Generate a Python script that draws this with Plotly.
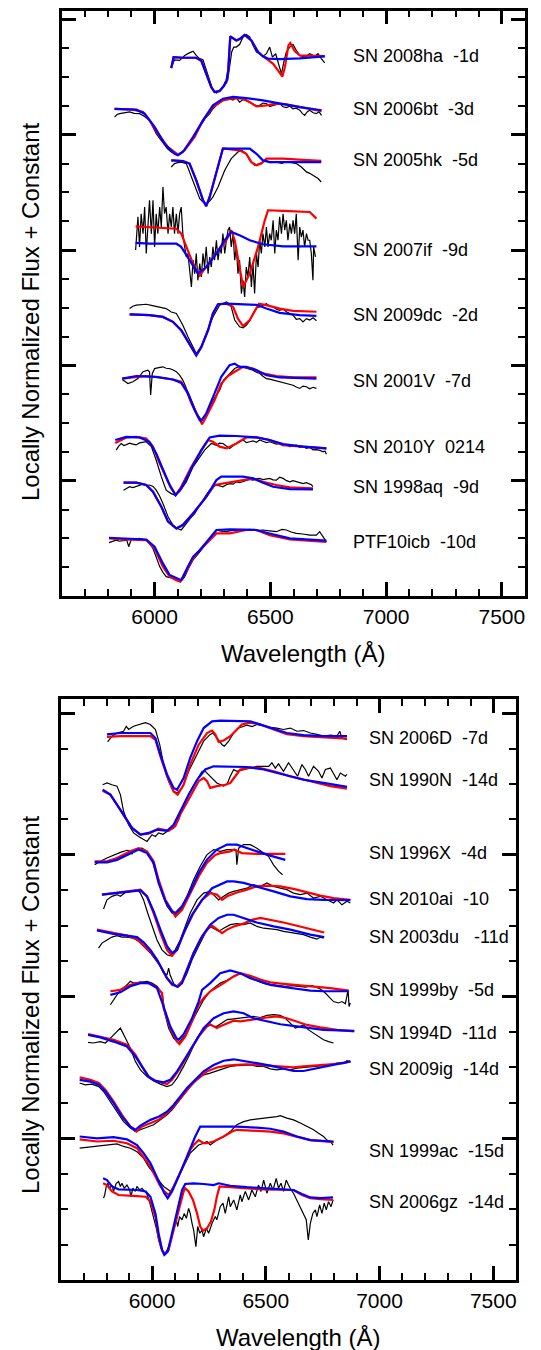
import plotly.graph_objects as go

FONT = "Liberation Sans, Arial, Helvetica, sans-serif"

# ---------------- TOP PANEL DATA (wavelength Å, flux + constant) ----------------
sn2008ha_obs = [(6076,18.41),(6086,18.60),(6108,18.58),(6130,18.75),(6148,18.83),(6166,18.90),(6180,18.75),(6195,18.64),(6209,18.60),(6223,18.23),(6238,17.83),(6252,17.54),(6267,17.45),(6281,17.52),(6295,17.65),(6304,17.83),(6316,17.89),(6324,18.35),(6333,18.87),(6342,19.04),(6353,19.04),(6367,19.13),(6382,19.39),(6396,19.48),(6411,19.39),(6425,19.10),(6440,18.87),(6454,18.81),(6468,18.72),(6483,18.81),(6497,19.04),(6509,18.69),(6523,18.81),(6537,18.41),(6548,18.12),(6558,18.52),(6569,18.87),(6584,19.04),(6598,19.13),(6612,18.93),(6627,18.75),(6648,18.69),(6670,18.81),(6692,18.72),(6706,18.81),(6720,18.64),(6735,18.49)]
sn2008ha_red = [(6072,18.31),(6082,18.69),(6122,18.67),(6180,18.67),(6202,18.56),(6223,18.12),(6245,17.65),(6259,17.48),(6281,17.52),(6298,17.68),(6310,17.83),(6318,18.23),(6324,19.27),(6327,19.41),(6353,19.27),(6367,19.32),(6389,19.46),(6418,19.27),(6447,18.87),(6468,18.72),(6490,18.60),(6512,18.46),(6533,18.23),(6552,18.02),(6563,18.35),(6578,19.10),(6586,19.18),(6605,18.90),(6627,18.75),(6684,18.75),(6735,18.73)]
sn2008ha_blue = [(6072,18.31),(6082,18.69),(6122,18.67),(6180,18.67),(6202,18.56),(6223,18.12),(6245,17.65),(6259,17.48),(6281,17.52),(6298,17.68),(6310,17.83),(6318,18.23),(6324,19.27),(6327,19.41),(6353,19.27),(6367,19.32),(6389,19.46),(6418,19.27),(6447,18.87),(6468,18.72),(6490,18.64),(6540,18.62),(6627,18.65),(6735,18.72)]

sn2006bt_obs = [(5827,16.61),(5838,16.70),(5849,16.73),(5870,16.76),(5892,16.79),(5912,16.74),(5935,16.73),(5955,16.64),(5978,16.50),(6007,16.04),(6020,15.90),(6036,15.69),(6055,15.52),(6072,15.40),(6101,15.29),(6115,15.38),(6130,15.46),(6148,15.70),(6166,15.92),(6184,16.16),(6202,16.38),(6220,16.58),(6238,16.73),(6252,16.90),(6267,17.02),(6280,17.10),(6295,17.19),(6310,17.22),(6324,17.25),(6338,17.20),(6353,17.28),(6367,17.13),(6382,17.22),(6396,17.19),(6411,17.12),(6425,17.08),(6440,17.00),(6454,17.02),(6468,17.10),(6483,17.08),(6498,16.98),(6512,17.02),(6526,17.06),(6540,17.08),(6555,16.97),(6569,16.94),(6584,16.99),(6598,16.90),(6612,16.92),(6627,16.85),(6638,16.74),(6648,16.67),(6660,16.80),(6670,16.85),(6685,16.76),(6699,16.73),(6710,16.80),(6721,16.67)]
sn2006bt_red = [(5827,16.90),(5906,16.87),(5950,16.79),(5978,16.50),(6014,16.04),(6058,15.57),(6101,15.31),(6130,15.46),(6173,15.92),(6209,16.50),(6252,16.96),(6295,17.19),(6339,17.27),(6382,17.25),(6411,17.13),(6440,16.98),(6483,17.02),(6526,17.08),(6569,17.05),(6627,16.96),(6721,16.82)]
sn2006bt_blue = [(5827,16.90),(5921,16.87),(5957,16.73),(6000,16.27),(6043,15.69),(6086,15.34),(6101,15.29),(6122,15.40),(6166,15.92),(6209,16.50),(6252,17.02),(6295,17.25),(6339,17.31),(6396,17.27),(6468,17.19),(6540,17.08),(6627,16.96),(6721,16.85)]

sn2005hk_obs = [(6072,14.88),(6086,15.00),(6100,15.03),(6115,15.05),(6137,15.00),(6151,14.71),(6173,14.19),(6195,13.78),(6209,13.67),(6223,13.61),(6238,13.70),(6252,13.84),(6274,14.19),(6303,14.77),(6331,15.17),(6360,15.40),(6375,15.46),(6396,15.34),(6411,15.11),(6432,14.94),(6454,15.00),(6470,15.06),(6483,15.11),(6500,15.03),(6526,15.05),(6550,15.01),(6570,15.07),(6584,15.05),(6612,15.00),(6634,14.88),(6656,14.71),(6670,14.66),(6684,14.59),(6706,14.48),(6720,14.36)]
sn2005hk_red = [(6072,15.11),(6122,15.09),(6151,15.00),(6180,14.42),(6209,13.73),(6223,13.52),(6238,13.84),(6267,14.65),(6295,15.52),(6303,15.52),(6367,15.46),(6396,15.34),(6418,15.05),(6440,14.94),(6461,15.00),(6483,15.17),(6555,15.17),(6641,15.13),(6720,15.09)]
sn2005hk_blue = [(6072,15.11),(6122,15.09),(6151,15.00),(6180,14.42),(6209,13.73),(6223,13.52),(6238,13.84),(6267,14.65),(6295,15.52),(6324,15.52),(6411,15.52),(6440,15.34),(6468,15.11),(6497,15.05),(6555,15.05),(6720,15.05)]

sn2007if_obs = [(5918,12.00),(5928,13.15),(5935,12.11),(5942,13.26),(5950,12.57),(5957,13.49),(5964,11.88),(5971,13.03),(5978,13.73),(5986,12.57),(5993,13.73),(6000,12.11),(6007,13.26),(6014,12.57),(6022,13.49),(6029,12.80),(6036,14.19),(6043,13.26),(6050,13.49),(6058,12.57),(6065,13.26),(6072,12.80),(6079,13.49),(6086,12.57),(6094,13.26),(6101,12.57),(6108,13.26),(6115,13.49),(6122,12.57),(6130,12.11),(6137,11.76),(6144,11.88),(6151,11.41),(6159,10.72),(6166,11.65),(6173,11.18),(6180,11.88),(6187,10.95),(6195,11.53),(6202,11.07),(6209,11.88),(6216,11.41),(6223,12.11),(6231,11.18),(6238,11.76),(6245,11.41),(6252,12.11),(6259,11.65),(6267,12.34),(6274,11.65),(6281,12.11),(6288,11.88),(6295,12.57),(6303,11.88),(6310,12.34),(6317,12.69),(6324,12.80),(6331,12.11),(6339,12.57),(6346,11.65),(6353,12.11),(6360,11.18),(6367,11.65),(6375,10.49),(6382,10.95),(6389,10.37),(6396,11.41),(6403,11.07),(6411,11.76),(6418,10.72),(6425,11.53),(6432,10.49),(6440,11.88),(6447,11.41),(6454,12.34),(6461,11.88),(6468,12.57),(6476,12.11),(6483,12.80),(6490,12.11),(6497,12.57),(6504,12.34),(6512,13.03),(6519,11.88),(6526,12.69),(6533,12.34),(6540,13.15),(6548,12.57),(6555,13.26),(6562,12.69),(6569,13.03),(6576,12.34),(6584,12.92),(6591,12.57),(6598,13.03),(6605,12.57),(6612,13.26),(6620,11.65),(6627,12.80),(6634,12.45),(6641,12.69),(6648,12.11),(6656,12.57),(6663,12.34),(6670,12.34),(6677,11.88),(6684,10.95),(6687,12.11),(6695,11.76)]
sn2007if_red = [(5918,12.82),(5978,12.80),(6094,12.74),(6115,12.57),(6137,12.11),(6166,11.53),(6195,11.12),(6223,11.41),(6267,11.88),(6310,12.34),(6331,12.69),(6346,12.34),(6367,11.41),(6382,10.72),(6411,11.18),(6447,12.11),(6476,13.03),(6490,13.38),(6555,13.36),(6670,13.32),(6699,13.09)]
sn2007if_blue = [(5918,12.25),(5978,12.22),(6094,12.22),(6115,12.11),(6151,11.65),(6187,11.18),(6223,11.41),(6267,11.88),(6303,12.34),(6331,12.63),(6367,12.51),(6411,12.34),(6468,12.20),(6555,12.13),(6699,12.13)]

sn2009dc_obs = [(5892,9.97),(5906,10.05),(5921,10.09),(5942,10.10),(5964,10.12),(5986,10.08),(6007,10.05),(6029,10.02),(6050,9.97),(6072,9.85),(6094,9.80),(6108,9.60),(6122,9.39),(6144,8.99),(6166,8.64),(6180,8.41),(6188,8.50),(6202,8.64),(6223,9.10),(6252,9.68),(6281,10.09),(6310,10.20),(6325,10.12),(6331,10.03),(6346,9.57),(6367,9.34),(6382,9.30),(6396,9.39),(6411,9.55),(6425,9.80),(6440,10.00),(6454,10.03),(6483,10.14),(6497,10.05),(6512,10.03),(6526,9.95),(6540,9.91),(6555,9.95),(6569,9.86),(6584,9.80),(6598,9.74),(6612,9.60),(6627,9.62),(6641,9.51),(6656,9.62),(6670,9.57),(6685,9.65),(6699,9.55)]
sn2009dc_red = [(5892,9.77),(5978,9.74),(6036,9.68),(6079,9.51),(6115,9.22),(6151,8.76),(6180,8.35),(6202,8.64),(6231,9.22),(6252,9.80),(6274,10.12),(6310,10.14),(6339,10.03),(6360,9.62),(6382,9.36),(6411,9.57),(6440,9.97),(6451,10.14),(6483,10.09),(6540,9.97),(6598,9.89),(6699,9.86)]
sn2009dc_blue = [(5892,9.77),(5978,9.74),(6036,9.68),(6079,9.51),(6115,9.22),(6151,8.76),(6180,8.35),(6202,8.64),(6231,9.22),(6252,9.80),(6274,10.12),(6310,10.14),(6367,10.12),(6440,10.10),(6483,9.97),(6540,9.82),(6627,9.74),(6699,9.72)]

sn2001v_obs = [(5860,7.51),(5872,7.45),(5885,7.37),(5906,7.43),(5928,7.54),(5950,7.78),(5971,7.83),(5978,7.78),(5983,6.97),(5990,7.72),(6000,7.89),(6018,7.92),(6036,7.95),(6050,7.90),(6065,7.89),(6080,7.84),(6094,7.78),(6108,7.66),(6122,7.49),(6144,7.08),(6166,6.68),(6183,6.33),(6202,6.10),(6223,6.33),(6252,6.79),(6281,7.14),(6298,7.49),(6317,7.66),(6346,7.89),(6367,7.97),(6396,7.89),(6425,7.83),(6440,7.76),(6454,7.72),(6468,7.62),(6483,7.54),(6497,7.52),(6512,7.49),(6526,7.45),(6540,7.43),(6555,7.40),(6569,7.37),(6584,7.35),(6598,7.31),(6612,7.25),(6627,7.20),(6641,7.28),(6656,7.26),(6670,7.19),(6685,7.24),(6699,7.20)]
sn2001v_red = [(5860,7.54),(5921,7.60),(5964,7.63),(6022,7.58),(6079,7.51),(6115,7.43),(6137,7.14),(6159,6.68),(6187,6.22),(6205,5.96),(6223,6.22),(6259,6.79),(6288,7.37),(6317,7.63),(6346,7.78),(6382,7.95),(6425,7.89),(6468,7.72),(6526,7.63),(6598,7.58),(6699,7.58)]
sn2001v_blue = [(5860,7.54),(5921,7.63),(6007,7.60),(6079,7.51),(6115,7.39),(6144,7.03),(6173,6.45),(6195,6.10),(6202,6.08),(6223,6.33),(6259,7.03),(6288,7.60),(6324,8.01),(6346,8.06),(6367,7.95),(6396,7.95),(6440,7.83),(6483,7.66),(6540,7.58),(6699,7.54)]

sn2010y_obs = [(5834,5.06),(5845,5.20),(5856,5.29),(5867,5.22),(5878,5.25),(5892,5.30),(5906,5.27),(5920,5.24),(5935,5.31),(5950,5.33),(5964,5.35),(5986,5.18),(6007,4.71),(6029,4.14),(6050,3.67),(6070,3.56),(6086,3.50),(6108,3.62),(6137,3.96),(6166,4.48),(6187,4.71),(6216,5.06),(6245,5.29),(6267,5.23),(6280,5.30),(6295,5.29),(6310,5.20),(6324,5.12),(6340,5.22),(6353,5.29),(6368,5.37),(6382,5.41),(6397,5.32),(6411,5.35),(6425,5.38),(6440,5.33),(6454,5.41),(6470,5.36),(6483,5.32),(6497,5.35),(6512,5.30),(6526,5.27),(6540,5.29),(6555,5.22),(6570,5.24),(6584,5.18),(6598,5.20),(6612,5.23),(6627,5.16),(6641,5.19),(6656,5.12),(6670,5.15),(6685,5.07),(6699,5.08),(6714,5.05),(6728,5.00),(6736,5.03),(6742,4.92)]
sn2010y_red = [(5830,5.31),(5878,5.50),(5921,5.52),(5964,5.46),(5993,5.18),(6022,4.60),(6058,3.96),(6091,3.50),(6115,3.79),(6159,4.48),(6202,5.06),(6231,5.41),(6252,5.35),(6281,5.18),(6310,5.12),(6353,5.29),(6396,5.50),(6440,5.50),(6497,5.41),(6555,5.23),(6641,5.18),(6742,5.12)]
sn2010y_blue = [(5830,5.41),(5878,5.52),(5935,5.50),(5978,5.35),(6007,4.94),(6036,4.37),(6068,3.79),(6091,3.50),(6115,3.73),(6159,4.42),(6202,5.06),(6238,5.50),(6281,5.56),(6353,5.55),(6440,5.50),(6497,5.41),(6555,5.27),(6641,5.18),(6742,5.12)]

sn1998aq_obs = [(5866,3.67),(5880,3.75),(5892,3.79),(5906,3.76),(5921,3.81),(5935,3.84),(5950,3.88),(5964,3.83),(5978,3.85),(5993,3.80),(6007,3.67),(6022,3.46),(6036,3.21),(6058,2.75),(6079,2.46),(6098,2.34),(6115,2.29),(6126,2.40),(6137,2.52),(6155,2.70),(6173,2.86),(6191,3.10),(6209,3.33),(6224,3.52),(6238,3.67),(6252,3.78),(6267,3.85),(6282,3.82),(6295,3.79),(6310,3.86),(6324,3.90),(6339,3.88),(6353,3.96),(6368,3.93),(6382,3.98),(6396,4.01),(6411,4.04),(6425,4.02),(6440,4.06),(6454,4.08),(6468,4.04),(6483,4.07),(6497,4.08),(6512,4.03),(6526,4.02),(6540,4.12),(6555,4.08),(6570,4.00),(6584,3.96),(6598,4.00),(6612,3.96),(6627,3.93),(6641,3.90),(6656,3.93),(6670,3.88),(6677,3.86),(6684,3.79)]
sn1998aq_red = [(5866,3.93),(5921,3.93),(5964,3.85),(5993,3.62),(6029,3.10),(6058,2.58),(6094,2.34),(6122,2.46),(6166,2.86),(6223,3.44),(6259,3.85),(6295,3.90),(6353,3.96),(6396,4.02),(6425,4.08),(6468,3.96),(6526,3.85),(6584,3.77),(6684,3.73)]
sn1998aq_blue = [(5866,3.93),(5921,3.93),(5964,3.85),(5993,3.62),(6029,3.10),(6058,2.58),(6094,2.34),(6122,2.46),(6166,2.86),(6223,3.44),(6267,4.02),(6288,4.14),(6382,4.14),(6425,4.08),(6468,3.93),(6512,3.79),(6584,3.71),(6684,3.70)]

ptf10icb_obs = [(5803,1.85),(5818,1.90),(5834,1.94),(5848,1.90),(5863,1.92),(5880,1.94),(5888,1.71),(5899,1.96),(5917,1.97),(5935,2.00),(5950,1.97),(5964,1.94),(5978,1.82),(5993,1.65),(6007,1.35),(6022,1.02),(6036,0.82),(6050,0.67),(6068,0.64),(6086,0.61),(6098,0.55),(6108,0.50),(6120,0.56),(6130,0.67),(6148,0.98),(6166,1.25),(6184,1.42),(6202,1.59),(6218,1.78),(6235,1.94),(6250,2.12),(6267,2.29),(6288,2.25),(6310,2.23),(6330,2.27),(6353,2.29),(6380,2.28),(6411,2.31),(6440,2.27),(6468,2.29),(6497,2.26),(6526,2.23),(6550,2.31),(6569,2.29),(6590,2.22),(6612,2.17),(6640,2.15),(6670,2.11),(6699,2.11),(6713,2.23),(6728,2.05),(6742,1.88)]
ptf10icb_red = [(5803,2.00),(5863,1.96),(5964,1.94),(6000,1.65),(6036,1.02),(6065,0.67),(6094,0.55),(6111,0.50),(6144,0.96),(6166,1.30),(6195,1.59),(6231,1.88),(6267,2.17),(6324,2.17),(6396,2.29),(6440,2.29),(6497,2.11),(6584,1.96),(6742,1.88)]
ptf10icb_blue = [(5803,2.02),(5863,2.00),(5964,1.96),(6000,1.71),(6036,1.13),(6065,0.73),(6094,0.61),(6115,0.55),(6144,1.02),(6166,1.36),(6195,1.59),(6231,1.94),(6267,2.29),(6324,2.31),(6440,2.29),(6497,2.17),(6584,2.00),(6742,1.92)]

# ---------------- BOTTOM PANEL DATA ----------------
sn2006d_obs = [(5805,15.19),(5824,15.35),(5846,15.44),(5875,15.49),(5887,15.63),(5897,15.54),(5919,15.63),(5949,15.70),(5971,15.73),(5993,15.68),(6015,15.54),(6034,15.11),(6051,14.55),(6073,14.08),(6095,13.79),(6110,13.75),(6132,13.89),(6161,14.36),(6198,14.83),(6227,15.21),(6256,15.40),(6268,15.44),(6285,15.30),(6308,15.11),(6318,15.07),(6337,15.21),(6359,15.44),(6381,15.58),(6417,15.66),(6440,15.62),(6461,15.68),(6491,15.63),(6520,15.60),(6549,15.58),(6578,15.54),(6608,15.58),(6637,15.49),(6666,15.51),(6696,15.44),(6725,15.40),(6754,15.35),(6784,15.38),(6813,15.35),(6825,15.49),(6835,15.30),(6857,15.25)]
sn2006d_red = [(5802,15.33),(5861,15.35),(5993,15.35),(6015,15.25),(6037,14.78),(6066,14.22),(6095,13.79),(6113,13.70),(6139,13.98),(6168,14.55),(6205,15.11),(6242,15.44),(6264,15.51),(6278,15.40),(6293,15.19),(6315,15.23),(6344,15.35),(6373,15.54),(6395,15.68),(6432,15.73),(6476,15.68),(6535,15.54),(6593,15.41),(6666,15.35),(6754,15.32),(6857,15.28)]
sn2006d_blue = [(5802,15.40),(5861,15.44),(5993,15.44),(6015,15.30),(6037,14.83),(6066,14.27),(6095,13.89),(6110,13.84),(6139,14.17),(6168,14.74),(6198,15.21),(6227,15.58),(6264,15.77),(6300,15.79),(6432,15.77),(6476,15.68),(6535,15.54),(6593,15.44),(6666,15.38),(6754,15.35),(6857,15.35)]

sn1990n_obs = [(5783,13.98),(5802,14.03),(5824,13.98),(5846,13.94),(5861,13.70),(5875,13.23),(5897,12.85),(5919,12.62),(5941,12.52),(5960,12.45),(5978,12.38),(6000,12.57),(6015,12.52),(6029,12.62),(6048,12.58),(6066,12.66),(6095,12.76),(6117,12.99),(6139,13.42),(6168,13.79),(6198,14.12),(6220,14.36),(6234,14.36),(6256,14.22),(6285,14.03),(6315,13.94),(6330,14.00),(6344,14.22),(6359,14.41),(6373,14.36),(6403,14.41),(6432,14.45),(6461,14.50),(6491,14.50),(6513,14.50),(6527,14.60),(6542,14.45),(6556,14.57),(6578,14.36),(6600,14.60),(6622,14.41),(6640,14.22),(6659,14.55),(6674,14.41),(6688,14.22),(6710,14.50),(6732,14.36),(6747,14.17),(6762,14.41),(6784,14.45),(6813,14.12),(6828,14.31),(6850,14.22),(6857,14.27)]
sn1990n_red = [(5783,13.81),(5817,13.70),(5846,13.42),(5875,13.14),(5912,12.76),(5949,12.57),(5985,12.60),(6029,12.74),(6073,12.68),(6102,12.81),(6124,13.14),(6168,13.65),(6205,14.08),(6227,14.17),(6242,14.08),(6256,13.89),(6285,13.94),(6322,13.98),(6344,14.03),(6366,14.22),(6388,14.41),(6432,14.47),(6476,14.45),(6535,14.36),(6608,14.22),(6696,14.08),(6784,13.94),(6857,13.87)]
sn1990n_blue = [(5783,13.84),(5817,13.70),(5846,13.42),(5875,13.14),(5912,12.76),(5949,12.57),(5985,12.62),(6022,12.71),(6066,12.68),(6095,12.85),(6124,13.23),(6161,13.70),(6198,14.12),(6234,14.41),(6271,14.50),(6330,14.50),(6417,14.48),(6491,14.41),(6578,14.27),(6666,14.12),(6754,14.03),(6857,13.92)]

sn1996x_obs = [(5748,11.72),(5773,11.82),(5802,11.91),(5831,12.00),(5861,12.07),(5890,12.13),(5905,12.10),(5912,12.03),(5920,12.12),(5934,12.17),(5956,12.19),(5978,12.10),(6000,11.86),(6022,11.39),(6044,10.92),(6066,10.55),(6088,10.36),(6103,10.31),(6125,10.45),(6154,10.83),(6183,11.30),(6212,11.68),(6241,12.00),(6271,12.15),(6300,12.10),(6330,12.15),(6358,12.15),(6369,12.15),(6373,11.72),(6381,12.19),(6402,12.29),(6432,12.29),(6461,12.19),(6490,12.05),(6512,11.96),(6534,11.72),(6556,11.54),(6574,11.44)]
sn1996x_red = [(5748,11.82),(5802,11.82),(5846,11.91),(5905,12.10),(5941,12.19),(5978,12.10),(6007,11.82),(6029,11.30),(6059,10.73),(6095,10.31),(6103,10.26),(6132,10.45),(6168,10.92),(6205,11.39),(6241,11.77),(6278,12.00),(6300,12.05),(6344,12.10),(6361,12.15),(6395,12.05),(6461,12.03),(6586,12.03)]
sn1996x_blue = [(5748,11.79),(5802,11.79),(5846,11.86),(5905,12.05),(5941,12.15),(5978,12.05),(6007,11.77),(6029,11.21),(6059,10.69),(6088,10.41),(6103,10.36),(6132,10.55),(6168,10.97),(6205,11.49),(6241,11.86),(6285,12.15),(6330,12.29),(6373,12.29),(6417,12.19),(6461,12.10),(6520,11.98),(6586,11.86)]

sn2010ai_obs = [(5787,10.47),(5802,10.73),(5824,10.83),(5846,10.88),(5861,10.83),(5883,10.94),(5912,10.97),(5934,11.02),(5949,10.92),(5963,10.73),(5981,10.36),(6000,9.98),(6022,9.60),(6044,9.32),(6066,9.18),(6080,9.15),(6102,9.32),(6124,9.60),(6146,9.98),(6168,10.36),(6198,10.73),(6227,10.92),(6256,10.97),(6271,10.88),(6293,10.73),(6315,10.83),(6337,10.92),(6359,10.97),(6388,11.02),(6417,11.06),(6446,11.16),(6476,11.11),(6505,11.21),(6535,11.11),(6564,11.06),(6593,11.02),(6622,10.92),(6652,10.88),(6681,10.92),(6710,10.78),(6740,10.83),(6769,10.73),(6798,10.64),(6813,10.73),(6835,10.59),(6857,10.69),(6872,10.64)]
sn2010ai_red = [(5780,10.88),(5831,10.92),(5890,10.97),(5949,11.02),(5978,10.83),(6007,10.36),(6037,9.79),(6066,9.32),(6088,9.15),(6110,9.32),(6146,9.89),(6183,10.36),(6220,10.73),(6256,10.92),(6285,10.88),(6308,10.73),(6330,10.83),(6373,10.94),(6417,11.02),(6461,11.11),(6505,11.13),(6564,11.11),(6622,11.04),(6681,10.94),(6740,10.85),(6798,10.78),(6872,10.73)]
sn2010ai_blue = [(5780,10.88),(5831,10.92),(5890,10.97),(5949,11.00),(5978,10.83),(6007,10.41),(6037,9.89),(6066,9.42),(6088,9.23),(6110,9.32),(6139,9.79),(6176,10.31),(6220,10.73),(6264,11.06),(6330,11.25),(6359,11.25),(6403,11.21),(6461,11.11),(6535,10.97),(6608,10.83),(6681,10.75),(6754,10.73),(6872,10.72)]

sn2003du_obs = [(5765,9.37),(5780,9.51),(5802,9.60),(5824,9.68),(5846,9.72),(5868,9.68),(5890,9.68),(5919,9.65),(5941,9.56),(5963,9.42),(5993,9.23),(6015,9.04),(6037,8.85),(6051,8.66),(6066,8.62),(6073,8.80),(6080,8.60),(6088,8.48),(6098,8.33),(6110,8.29),(6132,8.38),(6154,8.66),(6176,9.04),(6205,9.42),(6234,9.79),(6256,9.98),(6271,9.93),(6293,9.84),(6315,9.93),(6344,10.03),(6373,10.06),(6403,10.03),(6432,10.08),(6461,9.98),(6491,9.93),(6520,9.91),(6549,9.89),(6578,9.84),(6608,9.81),(6637,9.79),(6666,9.75),(6696,9.68),(6725,9.62),(6740,9.68),(6754,9.65)]
sn2003du_red = [(5758,9.89),(5831,9.79),(5890,9.72),(5934,9.62),(5963,9.46),(5993,9.27),(6022,9.04),(6044,8.76),(6066,8.52),(6088,8.33),(6110,8.29),(6132,8.43),(6154,8.76),(6183,9.23),(6212,9.60),(6242,9.89),(6264,10.00),(6285,9.89),(6308,9.79),(6330,9.89),(6359,9.98),(6403,10.06),(6439,10.17),(6476,10.22),(6520,10.17),(6578,10.09),(6637,10.00),(6696,9.91),(6757,9.81)]
sn2003du_blue = [(5758,9.87),(5831,9.77),(5890,9.72),(5934,9.68),(5963,9.53),(5993,9.32),(6022,9.04),(6044,8.76),(6066,8.52),(6088,8.36),(6113,8.27),(6132,8.38),(6154,8.76),(6183,9.23),(6220,9.70),(6256,10.03),(6293,10.22),(6330,10.31),(6359,10.31),(6403,10.22),(6461,10.09),(6535,9.98),(6608,9.89),(6696,9.75),(6757,9.68)]

sn1999by_obs = [(5817,7.77),(5839,8.00),(5861,8.19),(5883,8.29),(5905,8.43),(5919,8.38),(5949,8.40),(5978,8.43),(6000,8.38),(6022,8.29),(6044,8.10),(6058,7.49),(6073,7.11),(6095,6.83),(6117,6.69),(6146,6.92),(6176,7.30),(6205,7.67),(6227,7.91),(6249,8.10),(6271,8.24),(6300,8.38),(6330,8.46),(6359,8.57),(6388,8.65),(6410,8.62),(6439,8.52),(6468,8.43),(6498,8.36),(6527,8.33),(6556,8.31),(6586,8.29),(6615,8.31),(6644,8.29),(6674,8.27),(6703,8.31),(6732,8.24),(6754,8.15),(6776,8.00),(6798,7.86),(6820,7.82),(6835,7.86),(6850,7.80),(6862,8.19),(6866,7.72),(6872,7.82)]
sn1999by_red = [(5817,8.15),(5861,8.19),(5905,8.33),(5949,8.40),(5985,8.38),(6015,8.29),(6044,8.10),(6051,7.67),(6080,7.11),(6110,6.73),(6121,6.66),(6146,6.87),(6176,7.30),(6205,7.77),(6227,7.96),(6256,8.15),(6315,8.38),(6359,8.57),(6388,8.66),(6432,8.59),(6476,8.48),(6520,8.40),(6578,8.36),(6637,8.33),(6696,8.29),(6784,8.24),(6864,8.17)]
sn1999by_blue = [(5817,8.05),(5861,8.12),(5905,8.29),(5949,8.38),(5985,8.38),(6022,8.24),(6051,7.72),(6080,7.16),(6107,6.83),(6117,6.78),(6139,6.94),(6176,7.39),(6205,7.86),(6220,8.19),(6256,8.38),(6300,8.66),(6344,8.74),(6388,8.66),(6432,8.52),(6476,8.43),(6520,8.33),(6578,8.27),(6637,8.21),(6696,8.17),(6754,8.15),(6864,8.15)]

sn1994d_obs = [(5719,6.71),(5741,6.69),(5773,6.73),(5795,6.69),(5824,6.87),(5846,7.02),(5861,7.11),(5883,6.83),(5905,6.54),(5927,6.17),(5949,5.93),(5978,5.74),(6007,5.62),(6037,5.53),(6066,5.46),(6088,5.51),(6110,5.70),(6139,6.03),(6168,6.40),(6198,6.83),(6227,7.11),(6256,7.20),(6271,7.16),(6285,7.16),(6308,7.25),(6330,7.35),(6359,7.37),(6388,7.39),(6417,7.41),(6446,7.44),(6476,7.41),(6505,7.47),(6535,7.49),(6564,7.47),(6586,7.39),(6608,7.25),(6630,7.11),(6652,7.16),(6666,7.20),(6688,7.06),(6710,6.97),(6732,6.87),(6754,6.78),(6776,6.73),(6798,6.69)]
sn1994d_red = [(5719,6.94),(5773,6.87),(5831,6.78),(5890,6.64),(5927,6.36),(5956,6.03),(5985,5.74),(6015,5.62),(6051,5.56),(6066,5.53),(6088,5.65),(6124,5.98),(6161,6.40),(6205,6.87),(6242,7.16),(6256,7.22),(6271,7.16),(6285,7.11),(6300,7.16),(6330,7.25),(6359,7.32),(6388,7.30),(6417,7.32),(6461,7.37),(6505,7.41),(6549,7.44),(6593,7.39),(6637,7.30),(6681,7.20),(6740,7.13),(6813,7.06),(6889,7.02)]
sn1994d_blue = [(5719,6.92),(5773,6.85),(5831,6.73),(5890,6.59),(5927,6.31),(5956,6.03),(5985,5.74),(6015,5.62),(6051,5.58),(6080,5.65),(6110,5.89),(6146,6.26),(6190,6.73),(6227,7.11),(6271,7.39),(6315,7.53),(6359,7.58),(6403,7.53),(6446,7.39),(6505,7.30),(6564,7.22),(6637,7.16),(6696,7.11),(6754,7.06),(6889,7.03)]

sn2009ig_obs = [(5682,5.56),(5707,5.51),(5736,5.53),(5766,5.46),(5787,5.32),(5817,5.04),(5846,4.75),(5875,4.47),(5905,4.29),(5927,4.19),(5949,4.24),(5978,4.30),(6007,4.38),(6037,4.52),(6066,4.66),(6088,4.80),(6110,4.99),(6139,5.23),(6168,5.46),(6198,5.65),(6227,5.79),(6256,5.84),(6285,5.90),(6315,5.98),(6344,6.03),(6373,6.05),(6403,6.07),(6432,6.07),(6461,6.03),(6491,6.03),(6520,5.96),(6549,5.93),(6578,5.96),(6608,5.93),(6637,5.98),(6666,6.00),(6696,6.03),(6725,6.05),(6754,6.05),(6784,6.07),(6813,6.12),(6842,6.12),(6857,6.19),(6872,6.15)]
sn2009ig_red = [(5682,5.72),(5729,5.65),(5766,5.56),(5795,5.37),(5831,5.04),(5868,4.66),(5905,4.33),(5932,4.19),(5956,4.33),(5993,4.43),(6029,4.52),(6066,4.71),(6095,4.90),(6124,5.13),(6154,5.37),(6183,5.58),(6212,5.74),(6242,5.89),(6285,6.00),(6330,6.05),(6373,6.07),(6417,6.09),(6461,6.07),(6520,6.05),(6578,6.03),(6622,6.00),(6666,6.03),(6725,6.05),(6784,6.09),(6842,6.12),(6872,6.17)]
sn2009ig_blue = [(5682,5.65),(5729,5.60),(5766,5.51),(5795,5.32),(5831,4.99),(5868,4.61),(5905,4.33),(5927,4.24),(5949,4.36),(5993,4.52),(6029,4.61),(6066,4.75),(6095,4.94),(6124,5.18),(6154,5.42),(6190,5.65),(6227,5.89),(6271,6.07),(6315,6.19),(6359,6.23),(6403,6.19),(6461,6.12),(6520,6.05),(6578,5.96),(6622,5.90),(6666,5.90),(6725,5.98),(6784,6.05),(6842,6.12),(6872,6.17)]

sn1999ac_obs = [(5682,3.72),(5729,3.75),(5773,3.79),(5817,3.81),(5846,3.84),(5875,3.77),(5905,3.72),(5934,3.62),(5963,3.44),(5985,3.20),(6000,3.06),(6019,2.92),(6034,2.78),(6051,2.64),(6073,2.54),(6080,2.50),(6095,2.64),(6117,2.92),(6146,3.30),(6168,3.58),(6190,3.72),(6205,3.81),(6227,3.86),(6242,3.91),(6256,3.81),(6285,3.95),(6315,4.05),(6344,4.19),(6373,4.38),(6403,4.47),(6432,4.52),(6461,4.55),(6491,4.57),(6520,4.59),(6549,4.61),(6564,4.64),(6593,4.57),(6622,4.52),(6652,4.43),(6681,4.33),(6710,4.24),(6732,4.14),(6754,4.05),(6769,3.95),(6784,3.91),(6796,3.81)]
sn1999ac_red = [(5682,3.97),(5758,3.91),(5831,3.93),(5890,3.86),(5934,3.72),(5963,3.48),(5993,3.20),(6015,2.92),(6034,2.68),(6054,2.50),(6073,2.40),(6088,2.54),(6117,2.92),(6146,3.34),(6168,3.67),(6183,3.81),(6205,3.95),(6227,3.86),(6242,3.86),(6271,3.91),(6315,4.05),(6352,4.19),(6373,4.24),(6432,4.22),(6520,4.19),(6578,4.14),(6637,4.05),(6696,3.95),(6798,3.89)]
sn1999ac_blue = [(5682,4.05),(5758,4.00),(5831,4.03),(5890,3.97),(5934,3.81),(5963,3.58),(5993,3.30),(6015,3.01),(6034,2.73),(6054,2.45),(6069,2.31),(6088,2.50),(6117,2.92),(6146,3.39),(6168,3.72),(6190,4.05),(6212,4.33),(6256,4.33),(6373,4.33),(6461,4.30),(6520,4.27),(6578,4.19),(6637,4.05),(6696,3.95),(6798,3.91)]

sn2006gz_obs = [(5787,2.31),(5792,2.40),(5799,2.64),(5805,2.73),(5814,2.59),(5824,2.68),(5831,2.50),(5843,2.73),(5853,2.78),(5861,2.64),(5868,2.73),(5878,2.59),(5890,2.68),(5902,2.54),(5907,2.35),(5916,2.59),(5927,2.50),(5934,2.64),(5946,2.54),(5956,2.59),(5968,2.50),(5976,2.45),(5987,2.26),(5993,2.12),(6000,1.88),(6010,1.70),(6019,1.46),(6029,1.13),(6040,0.89),(6051,0.75),(6063,0.80),(6073,0.94),(6083,1.13),(6095,1.41),(6107,1.70),(6113,1.51),(6121,1.79),(6132,1.70),(6142,1.88),(6151,1.74),(6161,2.02),(6168,1.88),(6176,1.60),(6183,1.41),(6193,0.94),(6201,1.51),(6210,1.32),(6220,1.41),(6227,1.22),(6239,1.46),(6249,1.32),(6264,1.60),(6278,1.79),(6285,1.70),(6300,2.07),(6312,2.17),(6322,1.88),(6337,2.35),(6344,2.07),(6359,2.26),(6373,1.98),(6388,2.40),(6395,2.21),(6410,2.50),(6425,2.26),(6439,2.54),(6454,2.35),(6468,2.68),(6479,2.50),(6491,2.82),(6505,2.45),(6520,2.73),(6532,2.54),(6546,2.87),(6556,2.59),(6567,2.73),(6578,2.50),(6590,2.82),(6600,2.68),(6611,2.54),(6622,2.45),(6637,2.26),(6652,2.07),(6666,1.88),(6678,1.70),(6687,1.13),(6696,1.60),(6707,1.88),(6718,1.98),(6725,1.79),(6737,2.12),(6747,1.88),(6757,2.17),(6766,1.98),(6776,2.21),(6787,2.07),(6796,2.26)]
sn2006gz_red = [(5785,2.73),(5802,2.68),(5824,2.50),(5853,2.40),(5934,2.37),(5972,2.35),(5993,2.21),(6015,1.79),(6029,1.22),(6044,0.85),(6056,0.73),(6073,0.85),(6095,1.41),(6117,1.98),(6139,2.50),(6146,2.59),(6161,2.50),(6180,2.26),(6198,1.88),(6212,1.51),(6224,1.39),(6242,1.46),(6259,1.65),(6274,1.98),(6285,2.35),(6297,2.64),(6330,2.62),(6403,2.59),(6491,2.56),(6564,2.54),(6622,2.54),(6659,2.40),(6696,2.31),(6740,2.28),(6796,2.26)]
sn2006gz_blue = [(5785,2.87),(5802,2.82),(5824,2.64),(5853,2.56),(5934,2.54),(5972,2.50),(5993,2.35),(6015,1.88),(6029,1.32),(6044,0.85),(6054,0.71),(6069,0.80),(6088,1.32),(6110,1.98),(6132,2.54),(6146,2.71),(6183,2.73),(6227,2.71),(6271,2.68),(6293,2.73),(6344,2.66),(6417,2.62),(6491,2.59),(6564,2.56),(6622,2.54),(6659,2.43),(6696,2.33),(6740,2.31),(6796,2.33)]

# ---------------- LABELS ----------------
top_names = ["SN 2008ha\u00a0 -1d", "SN 2006bt\u00a0 -3d", "SN 2005hk\u00a0 -5d", "SN 2007if\u00a0 -9d",
             "SN 2009dc\u00a0 -2d", "SN 2001V\u00a0 -7d", "SN 2010Y\u00a0 0214", "SN 1998aq\u00a0 -9d",
             "PTF10icb\u00a0 -10d"]
top_label_y = [18.72, 16.88, 15.11, 11.99, 9.74, 7.45, 5.16, 3.78, 1.87]
bottom_names = ["SN 2006D\u00a0 -7d", "SN 1990N\u00a0 -14d", "SN 1996X\u00a0 -4d", "SN 2010ai\u00a0 -10",
                "SN 2003du\u00a0\u00a0 -11d", "SN 1999by\u00a0 -5d", "SN 1994D\u00a0 -11d", "SN 2009ig\u00a0 -14d",
                "SN 1999ac\u00a0 -15d", "SN 2006gz\u00a0 -14d"]
bottom_label_y = [15.31, 14.10, 12.06, 10.76, 9.69, 8.19, 6.98, 5.96, 3.64, 2.20]

top_spectra = [
    (sn2008ha_obs, sn2008ha_red, sn2008ha_blue),
    (sn2006bt_obs, sn2006bt_red, sn2006bt_blue),
    (sn2005hk_obs, sn2005hk_red, sn2005hk_blue),
    (sn2007if_obs, sn2007if_red, sn2007if_blue),
    (sn2009dc_obs, sn2009dc_red, sn2009dc_blue),
    (sn2001v_obs, sn2001v_red, sn2001v_blue),
    (sn2010y_obs, sn2010y_red, sn2010y_blue),
    (sn1998aq_obs, sn1998aq_red, sn1998aq_blue),
    (ptf10icb_obs, ptf10icb_red, ptf10icb_blue),
]
bottom_spectra = [
    (sn2006d_obs, sn2006d_red, sn2006d_blue),
    (sn1990n_obs, sn1990n_red, sn1990n_blue),
    (sn1996x_obs, sn1996x_red, sn1996x_blue),
    (sn2010ai_obs, sn2010ai_red, sn2010ai_blue),
    (sn2003du_obs, sn2003du_red, sn2003du_blue),
    (sn1999by_obs, sn1999by_red, sn1999by_blue),
    (sn1994d_obs, sn1994d_red, sn1994d_blue),
    (sn2009ig_obs, sn2009ig_red, sn2009ig_blue),
    (sn1999ac_obs, sn1999ac_red, sn1999ac_blue),
    (sn2006gz_obs, sn2006gz_red, sn2006gz_blue),
]

# The page keeps the browser's default 8 px body margin, so the figure is
# sized to fit the 541x1350 window from that offset.
OFF = 8
W, H = 541 - OFF, 1350 - OFF
X_MIN, X_MAX = 5600, 7600

# panel frames in figure pixels: (left, right, top, bottom)
TOP_BOX = (62 - OFF, 525 - OFF, 10.5 - OFF, 596 - OFF)
BOT_BOX = (61 - OFF, 516 - OFF, 699 - OFF, 1280 - OFF)
TOP_UNIT_PX = 591 / 20.5           # one flux unit in the top panel
TOP_YMAX = (TOP_BOX[3] - TOP_BOX[2]) / TOP_UNIT_PX
BOT_YMAX = 16.4

fig = go.Figure()


def add_panel(spectra, xa, ya):
    styles = [("black", 1.2), ("#ff0000", 2.2), ("#0000ff", 2.2)]
    for layer in range(3):
        color, width = styles[layer]
        for spec in spectra:
            pts = spec[layer]
            fig.add_trace(go.Scatter(
                x=[p[0] for p in pts], y=[p[1] for p in pts],
                mode="lines", line=dict(color=color, width=width),
                xaxis=xa, yaxis=ya, showlegend=False, hoverinfo="skip"))


add_panel(top_spectra, "x", "y")
add_panel(bottom_spectra, "x2", "y2")


def xaxis_cfg(box, anchor):
    return dict(domain=[box[0] / W, box[1] / W], anchor=anchor, range=[X_MIN, X_MAX],
                tick0=6000, dtick=500,
                ticks="inside", ticklen=14, tickwidth=2.5, tickcolor="black",
                showline=True, linecolor="black", linewidth=2.5, mirror="ticks",
                showgrid=False, zeroline=False,
                tickfont=dict(family=FONT, size=21, color="black"),
                minor=dict(dtick=100, tick0=X_MIN, ticks="inside", ticklen=7, tickwidth=1.6,
                           tickcolor="black", showgrid=False))


def yaxis_cfg(box, anchor, top):
    return dict(domain=[1 - box[3] / H, 1 - box[2] / H], anchor=anchor, range=[0, top],
                tick0=0, dtick=4,
                ticks="inside", ticklen=14, tickwidth=2.5, tickcolor="black",
                showline=True, linecolor="black", linewidth=2.5, mirror="ticks",
                showgrid=False, zeroline=False, showticklabels=False,
                minor=dict(dtick=1, tick0=0, ticks="inside", ticklen=7, tickwidth=1.6,
                           tickcolor="black", showgrid=False))


annotations = []
for name, yv in zip(top_names, top_label_y):
    annotations.append(dict(x=6847, y=yv, xref="x", yref="y", text=name, showarrow=False,
                            xanchor="left", yanchor="middle",
                            font=dict(family=FONT, size=18, color="black")))
for name, yv in zip(bottom_names, bottom_label_y):
    annotations.append(dict(x=6947, y=yv, xref="x2", yref="y2", text=name, showarrow=False,
                            xanchor="left", yanchor="middle",
                            font=dict(family=FONT, size=18, color="black")))

title_font = dict(family=FONT, size=24, color="black")
for yc in (312, 1005):
    annotations.append(dict(x=(30 - OFF) / W, y=1 - (yc - OFF) / H, xref="paper", yref="paper",
                            text="Locally Normalized Flux + Constant", textangle=-90,
                            showarrow=False, xanchor="center", yanchor="middle", font=title_font))
for xc, yc in ((303, 653), (298, 1337)):
    annotations.append(dict(x=(xc - OFF) / W, y=1 - (yc - OFF) / H, xref="paper", yref="paper",
                            text="Wavelength (Å)", showarrow=False,
                            xanchor="center", yanchor="middle", font=title_font))

fig.update_layout(
    width=W, height=H, margin=dict(l=0, r=0, t=0, b=0),
    paper_bgcolor="white", plot_bgcolor="white",
    xaxis=xaxis_cfg(TOP_BOX, "y"),
    yaxis=yaxis_cfg(TOP_BOX, "x", TOP_YMAX),
    xaxis2=xaxis_cfg(BOT_BOX, "y2"),
    yaxis2=yaxis_cfg(BOT_BOX, "x2", BOT_YMAX),
    annotations=annotations,
    showlegend=False,
)

fig.write_html("out.html", config={"displayModeBar": False})
